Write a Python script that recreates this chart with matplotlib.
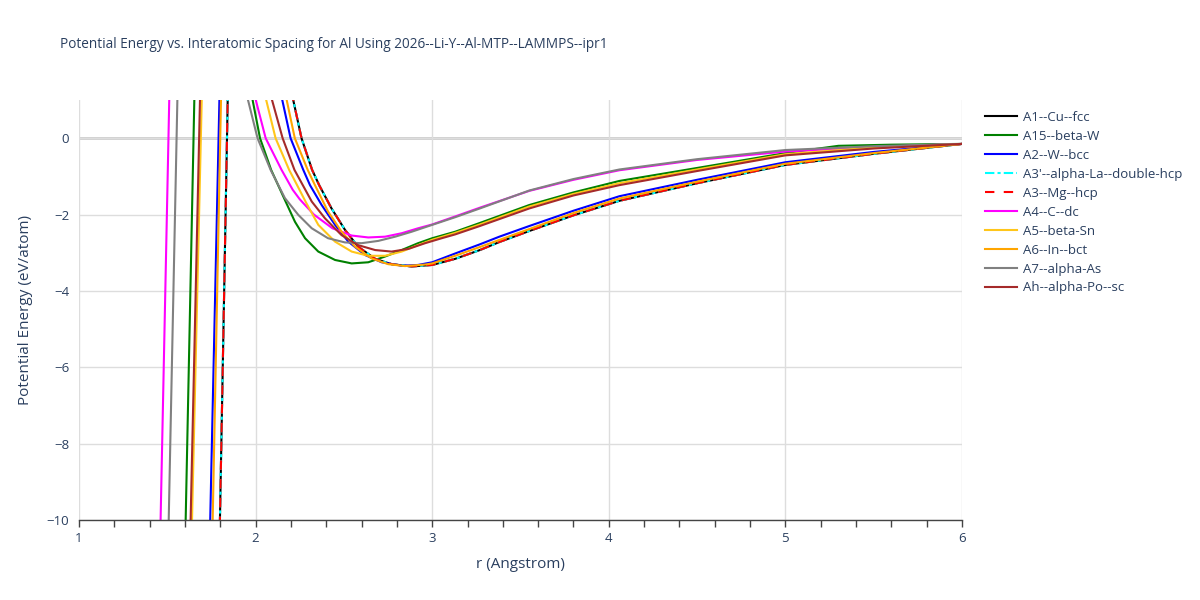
import matplotlib
matplotlib.use("Agg")
import matplotlib.pyplot as plt
from matplotlib.ticker import MultipleLocator

TITLE = "Potential Energy vs. Interatomic Spacing for Al Using 2026--Li-Y--Al-MTP--LAMMPS--ipr1"

# r (Angstrom), E (eV/atom); values off the top/bottom are rough guesses
r_hcp = [1.791, 1.798, 1.842, 1.85, 2.03, 2.16, 2.213, 2.26, 2.32, 2.36, 2.43, 2.506,
         2.58, 2.677, 2.77, 2.884, 3.0, 3.13, 3.27, 3.38, 3.55, 3.8, 4.06, 4.5, 5.0, 5.5, 6.0]
e_hcp = [-13, -10, 1.0, 3.0, 30, 2.2, 1.0, 0.0, -0.83, -1.23, -1.84, -2.40,
         -2.84, -3.16, -3.30, -3.36, -3.32, -3.16, -2.93, -2.72, -2.43, -2.02, -1.64, -1.18, -0.70, -0.41, -0.15]

r_a15 = [1.597, 1.604, 1.653, 1.66, 1.82, 1.93, 1.983, 2.025, 2.088, 2.166, 2.223, 2.28,
         2.355, 2.45, 2.544, 2.638, 2.733, 2.827, 2.92, 3.0, 3.13, 3.27, 3.55, 3.8, 4.06,
         4.5, 5.0, 5.3, 5.6, 6.0]
e_a15 = [-13, -10, 1.0, 3.0, 30, 2.0, 1.0, 0.0, -0.83, -1.62, -2.19, -2.62,
         -2.97, -3.19, -3.28, -3.25, -3.10, -2.93, -2.75, -2.62, -2.45, -2.22, -1.75, -1.42, -1.12,
         -0.78, -0.39, -0.20, -0.17, -0.15]

r_a2 = [1.736, 1.743, 1.795, 1.80, 1.98, 2.10, 2.151, 2.198, 2.27, 2.308, 2.374, 2.45,
        2.525, 2.62, 2.714, 2.827, 2.92, 3.0, 3.13, 3.27, 3.38, 3.55, 3.8, 4.06, 4.5, 5.0, 5.5, 6.0]
e_a2 = [-13, -10, 1.0, 3.0, 30, 2.2, 1.0, 0.0, -0.83, -1.23, -1.75, -2.27,
        -2.71, -3.06, -3.25, -3.34, -3.32, -3.25, -3.02, -2.78, -2.58, -2.30, -1.90, -1.52, -1.09, -0.63, -0.36, -0.15]

r_a4 = [1.455, 1.462, 1.511, 1.52, 1.75, 1.95, 2.001, 2.057, 2.147, 2.21, 2.25, 2.33,
        2.435, 2.544, 2.638, 2.733, 2.827, 2.92, 3.0, 3.13, 3.27, 3.55, 3.8, 4.06, 4.5, 5.0, 5.5, 6.0]
e_a4 = [-13, -10, 1.0, 3.0, 30, 2.2, 1.0, 0.0, -0.83, -1.35, -1.60, -2.0,
        -2.36, -2.55, -2.60, -2.58, -2.49, -2.36, -2.26, -2.05, -1.82, -1.38, -1.09, -0.84, -0.57, -0.35, -0.23, -0.15]

r_a5 = [1.633, 1.640, 1.695, 1.70, 1.90, 2.01, 2.06, 2.113, 2.19, 2.235, 2.285, 2.355,
        2.45, 2.544, 2.638, 2.733, 2.827, 2.92, 3.0, 3.13, 3.27, 3.55, 3.8, 4.06, 4.5, 5.0, 5.5, 6.0]
e_a5 = [-13, -10, 1.0, 3.0, 30, 2.2, 1.0, 0.0, -0.83, -1.23, -1.68, -2.27,
        -2.71, -2.97, -3.08, -3.08, -2.97, -2.80, -2.66, -2.48, -2.26, -1.79, -1.46, -1.18, -0.82, -0.42, -0.24, -0.15]

r_a6 = [1.750, 1.757, 1.804, 1.81, 2.0, 2.125, 2.176, 2.222, 2.295, 2.336, 2.41, 2.487,
        2.563, 2.657, 2.751, 2.846, 2.96, 3.0, 3.13, 3.27, 3.55, 3.8, 4.06, 4.5, 5.0, 5.5, 6.0]
e_a6 = [-13, -10, 1.0, 3.0, 30, 2.2, 1.0, 0.0, -0.83, -1.23, -1.92, -2.45,
        -2.84, -3.15, -3.30, -3.35, -3.31, -3.28, -3.08, -2.85, -2.38, -1.96, -1.58, -1.14, -0.67, -0.39, -0.15]

r_a7 = [1.50, 1.508, 1.557, 1.565, 1.75, 1.90, 1.957, 2.011, 2.085, 2.166, 2.242, 2.318,
        2.41, 2.506, 2.60, 2.695, 2.79, 2.884, 3.0, 3.13, 3.27, 3.55, 3.8, 4.06, 4.5, 5.0, 5.5, 6.0]
e_a7 = [-13, -10, 1.0, 3.0, 30, 2.0, 1.0, 0.0, -0.83, -1.57, -2.01, -2.36,
        -2.62, -2.73, -2.75, -2.69, -2.58, -2.45, -2.27, -2.07, -1.84, -1.37, -1.07, -0.82, -0.55, -0.31, -0.21, -0.15]

r_ah = [1.625, 1.632, 1.685, 1.69, 1.90, 2.04, 2.093, 2.153, 2.22, 2.318, 2.393, 2.487,
        2.58, 2.677, 2.77, 2.865, 2.96, 3.054, 3.13, 3.27, 3.55, 3.8, 4.06, 4.5, 5.0, 5.5, 6.0]
e_ah = [-13, -10, 1.0, 3.0, 30, 2.2, 1.0, 0.0, -0.83, -1.66, -2.10, -2.54,
        -2.80, -2.93, -2.97, -2.90, -2.75, -2.62, -2.52, -2.30, -1.84, -1.50, -1.23, -0.86, -0.45, -0.27, -0.15]

# (label, r, E, colour, dashes)
SERIES = [
    ("A1--Cu--fcc", r_hcp, e_hcp, "#000000", None),
    ("A15--beta-W", r_a15, e_a15, "#008000", None),
    ("A2--W--bcc", r_a2, e_a2, "#0000FF", None),
    ("A3'--alpha-La--double-hcp", r_hcp, e_hcp, "#00FFFF", (4.5, 1.5, 1.5, 1.5)),
    ("A3--Mg--hcp", r_hcp, e_hcp, "#FF0000", (4.5, 4.5)),
    ("A4--C--dc", r_a4, e_a4, "#FF00FF", None),
    ("A5--beta-Sn", r_a5, e_a5, "#FFC61A", None),
    ("A6--In--bct", r_a6, e_a6, "#FFA500", None),
    ("A7--alpha-As", r_a7, e_a7, "#808080", None),
    ("Ah--alpha-Po--sc", r_ah, e_ah, "#A52A2A", None),
]

TEXT = "#2a3f5f"


def main():
    plt.rcParams.update({
        "font.family": ["Open Sans", "DejaVu Sans"],
        "font.size": 9.5,
        "text.color": TEXT,
        "axes.labelcolor": TEXT,
        "xtick.color": "#444444",
        "ytick.color": TEXT,
        "xtick.labelcolor": TEXT,
        "ytick.labelcolor": TEXT,
    })
    fig = plt.figure(figsize=(12, 6), dpi=100)
    ax = fig.add_axes([79 / 1200, 80 / 600, 883 / 1200, 420 / 600])

    for label, r, e, color, dashes in SERIES:
        line, = ax.plot(r, e, color=color, linewidth=1.5, label=label,
                        solid_joinstyle="round")
        if dashes is not None:
            line.set_dashes(dashes)

    ax.set_xlim(1, 6)
    ax.set_ylim(-10, 1)
    ax.xaxis.set_major_locator(MultipleLocator(1))
    ax.xaxis.set_minor_locator(MultipleLocator(0.2))
    ax.yaxis.set_major_locator(MultipleLocator(2))
    ax.tick_params(axis="x", which="both", direction="out", length=5, width=1,
                   labelsize=9.5, pad=4)
    ax.tick_params(axis="y", length=0, labelsize=9.5, pad=7)
    ax.grid(True, which="major", color="#dddddd", linewidth=1)
    ax.set_axisbelow(True)
    ax.axhline(0, color="#cccccc", linewidth=2, zorder=0.5)
    for side in ("top", "right", "left"):
        ax.spines[side].set_visible(False)
    ax.spines["bottom"].set_color("#444444")
    ax.spines["bottom"].set_linewidth(1)

    ax.set_xlabel("r (Angstrom)", fontsize=11, labelpad=8.5)
    ax.set_ylabel("Potential Energy (eV/atom)", fontsize=11, labelpad=10)
    fig.text(60 / 1200, 1 - 45 / 600, TITLE, fontsize=9.8, va="center", ha="left")

    ax.legend(loc="upper left", bbox_to_anchor=(985 / 1200, 1 - 111 / 600),
              bbox_transform=fig.transFigure, frameon=False, fontsize=9.5,
              handlelength=2.4, handletextpad=0.5, labelspacing=0.45,
              borderaxespad=0, borderpad=0)

    fig.savefig("out.png", dpi=100)


if __name__ == "__main__":
    main()
